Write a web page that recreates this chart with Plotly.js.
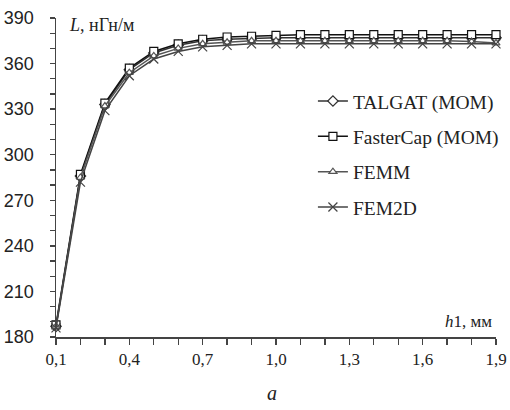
<!DOCTYPE html>
<html>
<head>
<meta charset="utf-8">
<script src="https://cdn.plot.ly/plotly-3.0.1.min.js"></script>
<style>html,body{margin:0;padding:0;background:#fff;}#chart{width:510px;height:410px;}</style>
</head>
<body>
<div id="chart"></div>
<script>
var h1 = [0.1,0.2,0.3,0.4,0.5,0.6,0.7,0.8,0.9,1.0,1.1,1.2,1.3,1.4,1.5,1.6,1.7,1.8,1.9];
var talgat = [187,286,333,356,367,372,375,376,376.5,377,377,377,377,377,377,377,377,377,377];
var fastercap = [188,287,334,357,368,373,376,377.5,378,378.5,379,379,379,379,379,379,379,379,379];
var femm = [187,285,332,354,365,370,373,374,375,375,375,375,375,375,375,375,375,374.5,373.5];
var fem2d = [186,282,329,352,363,368,371,372,373,373,373,373,373,373,373,373,373,373,373];
var seriesNames = ['TALGAT (MOM)','FasterCap (MOM)','FEMM','FEM2D'];
var xTickVals = [0.1,0.4,0.7,1.0,1.3,1.6,1.9];
var xTickText = ['0,1','0,4','0,7','1,0','1,3','1,6','1,9'];
var yTickVals = [180,210,240,270,300,330,360,390];
var yTickText = ['180','210','240','270','300','330','360','390'];

var serif = 'Liberation Serif';
var sans = 'Liberation Sans';

function tr(y, name, sym, color, size, grp) {
  return {
    x: h1, y: y, name: name, type: 'scatter', mode: 'lines+markers',
    line: {color: color, width: 1.5},
    marker: {symbol: sym, size: size, color: '#fff', line: {color: color, width: 1.2}},
    cliponaxis: false, legendgroup: grp
  };
}
var data = [
  tr(talgat, seriesNames[0], 'diamond', '#333', 8, 'a'),
  tr(fastercap, seriesNames[1], 'square', '#111', 8, 'b'),
  tr(femm, seriesNames[2], 'triangle-up', '#555', 7, 'c'),
  tr(fem2d, seriesNames[3], 'x-thin-open', '#444', 9, 'd')
];
data[3].marker = {symbol: 'x-thin-open', size: 9, color: '#444', line: {color: '#444', width: 1.2}};

var layout = {
  width: 510, height: 410,
  margin: {l: 56, r: 14, t: 18, b: 73, autoexpand: false},
  paper_bgcolor: '#fff', plot_bgcolor: '#fff',
  separators: ', ',
  font: {family: serif},
  showlegend: true,
  legend: {x: 1.018, xanchor: 'right', y: 0.80, yanchor: 'top', bgcolor: 'rgba(0,0,0,0)',
           font: {family: serif, size: 19.5, color: '#222'}, traceorder: 'grouped',
           tracegroupgap: 7, itemwidth: 30},
  xaxis: {
    range: [0.1, 1.9], tickmode: 'array', tickvals: xTickVals, ticktext: xTickText,
    showgrid: false, zeroline: false, showline: true, linecolor: '#444', linewidth: 1.5,
    ticks: 'outside', ticklen: 6, tickwidth: 1.3, tickcolor: '#444',
    tickfont: {family: serif, size: 17, color: '#222'},
    minor: {dtick: 0.1, tick0: 0.1, ticks: 'outside', ticklen: 6, tickwidth: 1.3, tickcolor: '#444', showgrid: false}
  },
  yaxis: {
    range: [180, 390], tickmode: 'array', tickvals: yTickVals, ticktext: yTickText,
    showgrid: false, zeroline: false, showline: true, linecolor: '#444', linewidth: 1.5,
    ticks: 'outside', ticklen: 5, tickwidth: 1.3, tickcolor: '#444', ticklabelstandoff: 12,
    tickfont: {family: sans, size: 18, color: '#222'},
    minor: {dtick: 10, tick0: 180, ticks: 'outside', ticklen: 5, tickwidth: 1.3, tickcolor: '#444', showgrid: false}
  },
  annotations: [
    {text: '<i>L</i>, нГн/м', xref: 'paper', yref: 'paper', x: 0.025, y: 1.0, xanchor: 'left', yanchor: 'middle',
     yshift: -7, showarrow: false, font: {family: serif, size: 18, color: '#222'}},
    {text: '<i>h</i>1, мм', xref: 'paper', yref: 'paper', x: 0.995, y: 0.05, xanchor: 'right', yanchor: 'middle',
     showarrow: false, font: {family: serif, size: 17, color: '#222'}},
    {text: '<i>а</i>', xref: 'paper', yref: 'paper', x: 0.49, y: -0.175, xanchor: 'center', yanchor: 'middle',
     showarrow: false, font: {family: serif, size: 20, color: '#222'}}
  ]
};
Plotly.newPlot('chart', data, layout, {displayModeBar: false, staticPlot: true});
</script>
</body>
</html>
